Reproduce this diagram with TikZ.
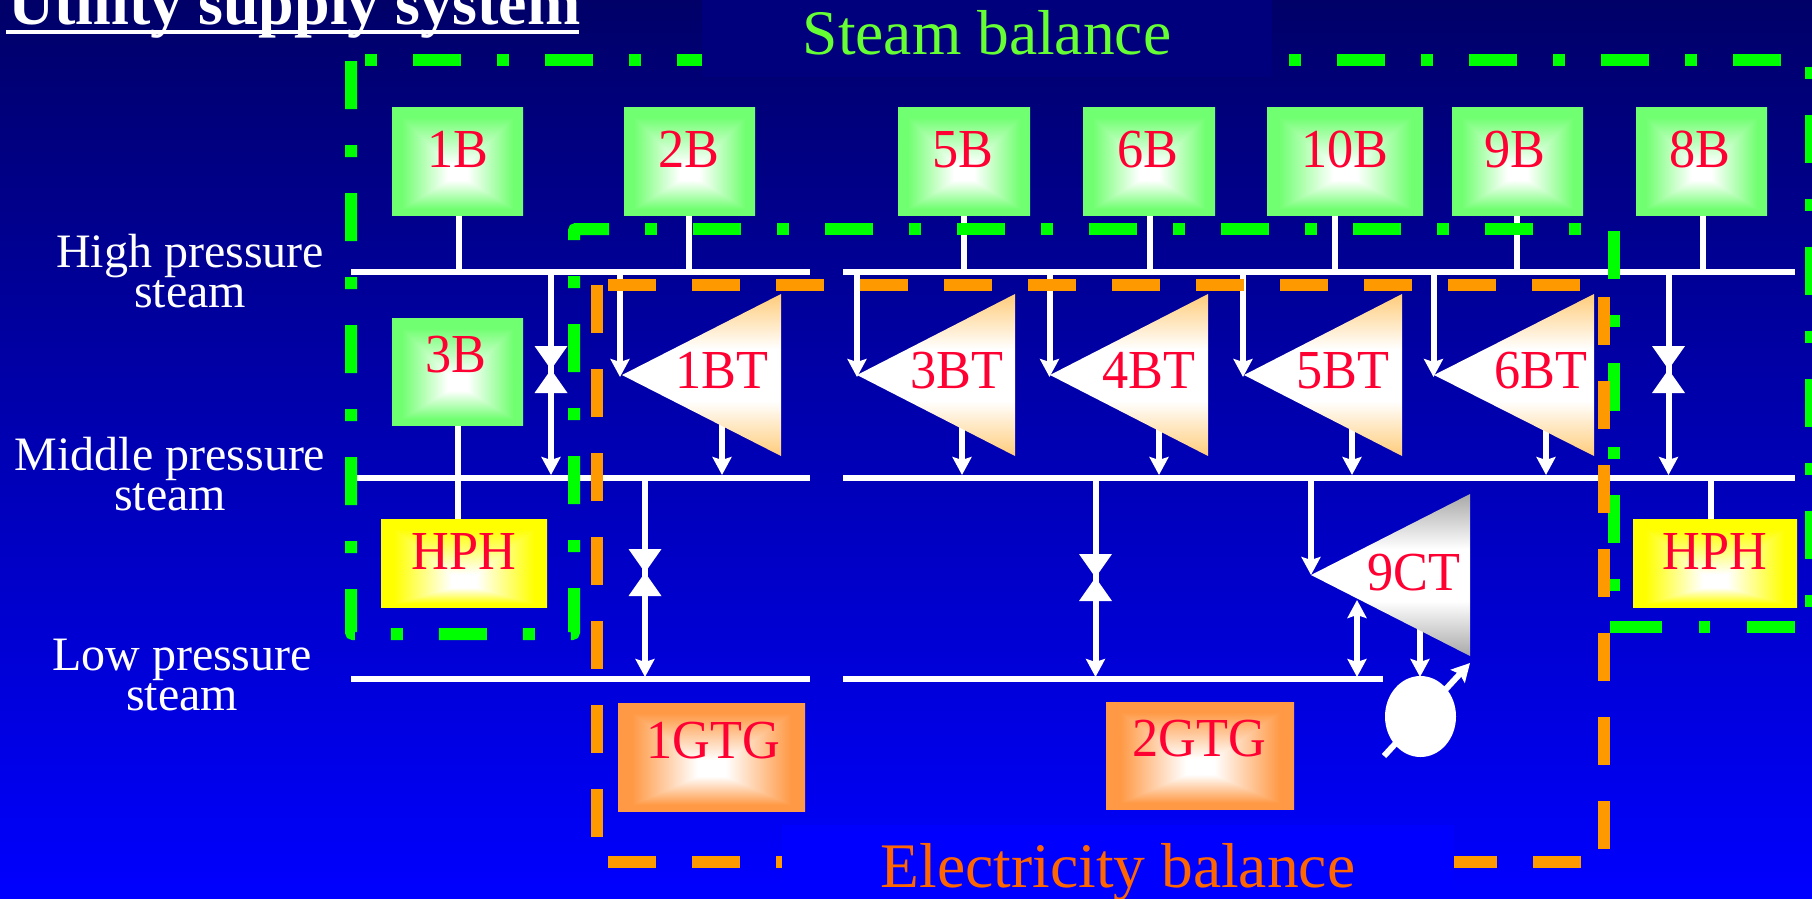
\documentclass[tikz,border=0pt]{standalone}
\usepackage{fontspec}
\setmainfont{Liberation Serif}
\newfontfamily\condf[FakeStretch=0.95]{Liberation Serif}
\usetikzlibrary{arrows.meta,shapes.geometric}
\definecolor{redt}{RGB}{255,0,51}
\definecolor{greent}{RGB}{102,255,51}
\definecolor{oranget}{RGB}{255,102,0}
\definecolor{gdash}{RGB}{0,255,0}
\definecolor{odash}{RGB}{255,153,0}
\definecolor{bgtop}{RGB}{0,0,104}
\definecolor{bgbot}{RGB}{0,0,255}
\definecolor{turbo}{RGB}{255,204,122}
\definecolor{turbg}{RGB}{168,168,168}
% #1 name, #2 centre offset, #3 #4 #5 colour drops for r g b
\newcommand{\boxshade}[5]{%
\pgfdeclarefunctionalshading{#1}{\pgfpoint{-50bp}{-50bp}}{\pgfpoint{50bp}{50bp}}{}{%
#2 sub dup 0 ge {25 #2 sub div} {neg 25 #2 add div} ifelse
exch abs 25 div
2 copy lt {exch} if pop
0.15 sub 0.7 div dup 1 gt {pop 1} if dup 0 lt {pop 0} if
dup dup
#5 mul 1 exch sub 3 1 roll
#4 mul 1 exch sub 3 1 roll
#3 mul 1 exch sub 3 1 roll}}
\boxshade{boxgreen}{-6}{0.56}{0}{0.56}
\boxshade{boxyellow}{-12}{0}{0}{1}
\boxshade{boxorange}{-6}{0}{0.40}{0.73}
\pgfdeclareverticalshading{turborange}{100bp}{color(0bp)=(turbo); color(25bp)=(turbo); color(42bp)=(white); color(58bp)=(white); color(75bp)=(turbo); color(100bp)=(turbo)}
\pgfdeclareverticalshading{turbgray}{100bp}{color(0bp)=(turbg); color(25bp)=(turbg); color(42bp)=(white); color(58bp)=(white); color(75bp)=(turbg); color(100bp)=(turbg)}
\tikzset{
  wline/.style={draw=white,line width=6pt},
  warrow/.style={wline,-{Stealth[length=18pt,width=19pt,inset=3pt]}},
  wdouble/.style={wline,{Stealth[length=18pt,width=19pt,inset=3pt]}-{Stealth[length=18pt,width=19pt,inset=3pt]}},
  greendash/.style={draw=gdash,line width=12pt,dash pattern=on 48pt off 36pt on 12pt off 36pt},
  greendot/.style={draw=gdash,line width=12pt,dash pattern=on 12pt off 36pt on 48pt off 36pt},
  orangedash/.style={draw=odash,line width=12pt,dash pattern=on 48pt off 36pt},
  eqtext/.style={text=redt,font=\condf\fontsize{55pt}{55pt}\selectfont,anchor=base,inner sep=0pt,yshift=-1pt},
  steamlabel/.style={text=white,font=\fontsize{48pt}{40pt}\selectfont,anchor=base,inner sep=0pt,align=center},
  balance/.style={font=\fontsize{63.5pt}{64pt}\selectfont,anchor=base,inner sep=0pt},
  valveshape/.style={fill=white},
}
% box: name, shading, x1, y1, x2, y2, text x, text y, text
\newcommand{\eqbox}[9]{%
  \path[shading=#2] (#3,#4) rectangle (#5,#6);
  \coordinate (#1-nw) at (#3,#4);
  \coordinate (#1-se) at (#5,#6);
  \node[eqtext] (#1) at (#7,#8) {#9};}
% connector: name, style, x, y1, y2
\newcommand{\conn}[5]{%
  \coordinate (#1-a) at (#3,#4);
  \coordinate (#1-b) at (#3,#5);
  \draw[#2] (#1-a) -- (#1-b);}
% turbine: name, shading, tip x, tip y, right x, half height, text x, text y, text
\newcommand{\turbine}[9]{%
  \coordinate (#1-tip) at (#3,#4);
  \coordinate (#1-top) at (#5,#4-#6);
  \coordinate (#1-bot) at (#5,#4+#6);
  \path[shading=#2] (#1-tip) -- (#1-top) -- (#1-bot) -- cycle;
  \node[eqtext] (#1) at (#7,#8) {#9};}
% valve: name, x, y
\newcommand{\valve}[3]{%
  \coordinate (#1) at (#2,#3);
  \fill[valveshape] (#1) -- ++(-16.5,-23.5) -- ++(33,0) -- cycle;
  \fill[valveshape] (#1) -- ++(-16.5,23.5) -- ++(33,0) -- cycle;}
\begin{document}
\begin{tikzpicture}[x=1pt,y=-1pt]
% background
\path[use as bounding box,top color=bgtop,bottom color=bgbot,shading angle=0] (0,0) rectangle (1812,898);
\fill[fill={rgb,255:red,0;green,0;blue,124}] (702,0) rectangle (1272,77);
\fill[fill=bgbot] (782,825) rectangle (1454,898);

% steam headers
\coordinate (hpA) at (351,272); \coordinate (hpB) at (810,272);
\coordinate (hpC) at (843,272); \coordinate (hpD) at (1795,272);
\coordinate (mpA) at (357,478); \coordinate (mpB) at (810,478);
\coordinate (mpC) at (843,478); \coordinate (mpD) at (1795,478);
\coordinate (lpA) at (351,679); \coordinate (lpB) at (810,679);
\coordinate (lpC) at (843,679); \coordinate (lpD) at (1383,679);
\draw[wline] (hpA) -- (hpB);
\draw[wline] (hpC) -- (hpD);
\draw[wline] (mpA) -- (mpB);
\draw[wline] (mpC) -- (mpD);
\draw[wline] (lpA) -- (lpB);
\draw[wline] (lpC) -- (lpD);

% boiler legs
\conn{l1}{wline}{459}{215}{272}
\conn{l2}{wline}{689}{215}{272}
\conn{l5}{wline}{964}{215}{272}
\conn{l6}{wline}{1150}{215}{272}
\conn{l10}{wline}{1335}{215}{272}
\conn{l9}{wline}{1517}{215}{272}
\conn{l8}{wline}{1703}{215}{272}
\conn{l3}{wline}{458}{425}{519}
\conn{lr}{wline}{1711}{478}{519}

% letdown lines with valves
\conn{v1l}{warrow}{551}{272}{475}
\conn{v2l}{warrow}{645}{478}{677}
\conn{v3l}{warrow}{1095.5}{478}{677}
\conn{v4l}{warrow}{1668.5}{272}{475}

% turbine inlets
\conn{i1}{warrow}{620}{272}{377}
\conn{i3}{warrow}{857}{272}{377}
\conn{i4}{warrow}{1049.5}{272}{377}
\conn{i5}{warrow}{1243}{272}{377}
\conn{i6}{warrow}{1433.5}{272}{377}
\conn{i9}{warrow}{1311}{478}{575}
% turbine outlets
\conn{o1}{warrow}{722}{400}{475}
\conn{o3}{warrow}{962}{400}{475}
\conn{o4}{warrow}{1159}{400}{475}
\conn{o5}{warrow}{1352}{400}{475}
\conn{o6}{warrow}{1546}{400}{475}
\conn{o9}{warrow}{1420}{620}{677}
\conn{d9}{wdouble}{1357}{600}{677}

% generator shaft arrow
\coordinate (ga) at (1384,756);
\coordinate (gb) at (1470,663);
\draw[draw=white,line width=6pt,-{Stealth[length=18pt,width=19pt,inset=3pt]}] (ga) -- (gb);
\node[ellipse,fill=white,minimum width=71pt,minimum height=81pt,inner sep=0pt] (gen) at (1420.5,716.5) {};

% valves
\valve{v1}{551}{369.5}
\valve{v2}{645}{572.5}
\valve{v3}{1095.5}{577.5}
\valve{v4}{1668.5}{369.5}

% boilers and heaters
\eqbox{b1}{boxgreen}{392}{107}{523}{215}{458}{166}{1B}
\eqbox{b2}{boxgreen}{624}{107}{755}{215}{689}{166}{2B}
\eqbox{b5}{boxgreen}{898}{107}{1030}{215}{963}{166}{5B}
\eqbox{b6}{boxgreen}{1083}{107}{1215}{215}{1148}{166}{6B}
\eqbox{b10}{boxgreen}{1267}{107}{1423}{215}{1345}{166}{10B}
\eqbox{b9}{boxgreen}{1452}{107}{1583}{215}{1515}{166}{9B}
\eqbox{b8}{boxgreen}{1636}{107}{1767}{215}{1700}{166}{8B}
\eqbox{b3}{boxgreen}{392}{318}{523}{425}{456}{371}{3B}
\eqbox{h1}{boxyellow}{381}{519}{547}{607}{464}{568}{HPH}
\eqbox{h2}{boxyellow}{1633}{519}{1797}{607}{1715}{568}{HPH}
\eqbox{g1}{boxorange}{618}{703}{805}{811}{713}{757}{1GTG}
\eqbox{g2}{boxorange}{1106}{702}{1294}{809}{1199}{755}{2GTG}

% turbines
\turbine{t1}{turborange}{622}{375}{781}{81}{722}{387}{1BT}
\turbine{t3}{turborange}{857}{375}{1015}{81}{957}{387}{3BT}
\turbine{t4}{turborange}{1050}{375}{1208}{81}{1149}{387}{4BT}
\turbine{t5}{turborange}{1244}{375}{1402}{81}{1343}{387}{5BT}
\turbine{t6}{turborange}{1434}{375}{1594}{81}{1541}{387}{6BT}
\turbine{t9}{turbgray}{1311}{575}{1470}{81}{1413.5}{589}{9CT}

% steam balance envelope
\coordinate (ga1) at (364.5,60); \coordinate (ga2) at (702,60);
\coordinate (gb1) at (1289,60);  \coordinate (gb2) at (1782,60);
\coordinate (gc1) at (1811,67);  \coordinate (gc2) at (1811,608);
\coordinate (gd1) at (351,61);   \coordinate (gd2) at (351,634);
\coordinate (gd3) at (574,634);  \coordinate (gd4) at (574,229);
\coordinate (gd4b) at (609,229);
\coordinate (gt1) at (645,229);  \coordinate (gt2) at (1582,229);
\coordinate (gv1) at (1614,231); \coordinate (gv2) at (1614,592);
\coordinate (gr1) at (1610,627); \coordinate (gr2) at (1795,627);
\draw[greendot] (ga1) -- (ga2);
\draw[greendot] (gb1) -- (gb2);
\draw[greendot] (gc1) -- (gc2);
\draw[greendash,rounded corners=2pt] (gd1) -- (gd2) -- (gd3) -- (gd4) -- (gd4b);
\draw[greendot] (gt1) -- (gt2);
\draw[greendash] (gv1) -- (gv2);
\draw[greendash,dash pattern=on 52pt off 37pt on 11pt off 37pt on 48pt off 36pt] (gr1) -- (gr2);

% electricity balance envelope
\coordinate (oa1) at (597,285);  \coordinate (oa2) at (597,837);
\coordinate (ob1) at (608,285);  \coordinate (ob2) at (1580,285);
\coordinate (oc1) at (1604,297); \coordinate (oc2) at (1604,849);
\coordinate (od1) at (608,862);  \coordinate (od2) at (782,862);
\coordinate (oe1) at (1581,862); \coordinate (oe2) at (1454,862);
\draw[orangedash] (oa1) -- (oa2);
\draw[orangedash] (ob1) -- (ob2);
\draw[orangedash] (oc1) -- (oc2);
\draw[orangedash] (od1) -- (od2);
\draw[orangedash] (oe1) -- (oe2);

% texts
\node[anchor=base west,inner sep=0pt,text=white,font=\bfseries\fontsize{64pt}{64pt}\selectfont] (title) at (8,24) {Utility supply system};
\coordinate (ul1) at (6,32); \coordinate (ul2) at (579,32);
\draw[draw=white,line width=4pt] (ul1) -- (ul2);
\node[balance,text=greent] (steam) at (987,54.5) {Steam balance};
\node[balance,text=oranget] (elec) at (1118,887) {Electricity balance};
\node[steamlabel] (hp) at (190,307) {High pressure\\steam};
\node[steamlabel] (mp) at (170,510) {Middle pressure\\steam};
\node[steamlabel] (lp) at (182,710) {Low pressure\\steam};
\end{tikzpicture}
\end{document}
